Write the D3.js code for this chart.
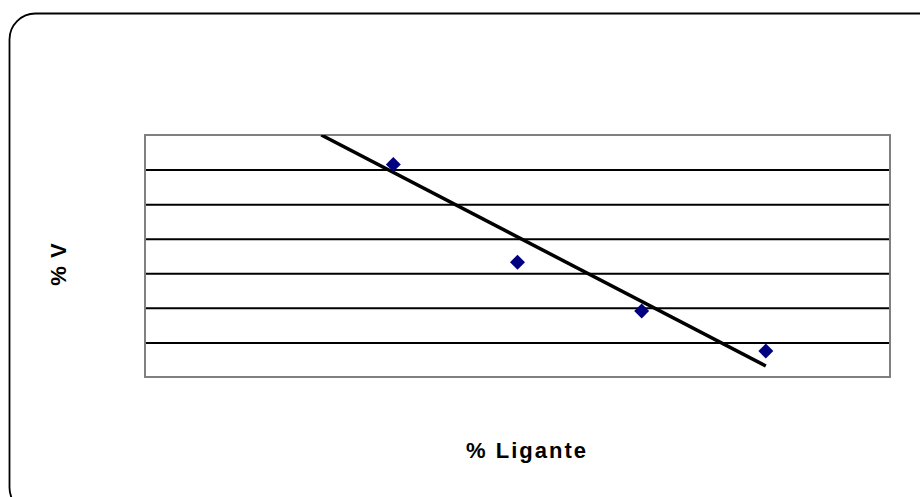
<!DOCTYPE html>
<html>
<head>
<meta charset="utf-8">
<script src="https://cdn.jsdelivr.net/npm/d3@7"></script>
<style>
  html, body { margin: 0; padding: 0; background: #fff; }
  svg { display: block; }
</style>
</head>
<body>
<svg id="chart" width="920" height="497"></svg>
<script>
// Binder content (% Ligante) and air voids (% V)
const ligante = [4.0, 4.5, 5.0, 5.5];
const vazios = [6.15, 3.32, 1.91, 0.75];

// Linear trend line endpoints (clipped at the top of the plot area)
const trendX = [3.71, 5.5];
const trendY = [7.0, 0.32];

// Axis ranges and hidden tick values (gridlines only)
const xDomain = [3.0, 6.0];
const yDomain = [0, 7];
const yTicks = [1, 2, 3, 4, 5, 6];

const xTitle = "% Ligante";
const yTitle = "% V";

const svg = d3.select("#chart");
const plot = { left: 145, top: 135, right: 890, bottom: 377 };

// Outer rounded frame
svg.append("rect")
  .attr("x", 9.5).attr("y", 13.5)
  .attr("width", 940).attr("height", 500)
  .attr("rx", 26).attr("ry", 26)
  .attr("fill", "#fff")
  .attr("stroke", "#000")
  .attr("stroke-width", 1.8);

const x = d3.scaleLinear().domain(xDomain).range([plot.left, plot.right]);
const y = d3.scaleLinear().domain(yDomain).range([plot.bottom, plot.top]);

// Horizontal gridlines
const yGrid = d3.axisLeft(y)
  .tickValues(yTicks)
  .tickSize(-(plot.right - plot.left))
  .tickFormat("");
svg.append("g")
  .attr("transform", `translate(${plot.left},0)`)
  .call(yGrid)
  .call(g => g.select(".domain").remove())
  .call(g => g.selectAll("line").attr("stroke", "#000").attr("stroke-width", 2));

// Plot area border
svg.append("rect")
  .attr("x", plot.left).attr("y", plot.top)
  .attr("width", plot.right - plot.left)
  .attr("height", plot.bottom - plot.top)
  .attr("fill", "none")
  .attr("stroke", "#808080")
  .attr("stroke-width", 2);

// Clip for the trend line
svg.append("clipPath").attr("id", "plotClip")
  .append("rect")
  .attr("x", plot.left).attr("y", plot.top)
  .attr("width", plot.right - plot.left)
  .attr("height", plot.bottom - plot.top);

const line = d3.line().x(d => x(d[0])).y(d => y(d[1]));
svg.append("path")
  .datum(d3.zip(trendX, trendY))
  .attr("clip-path", "url(#plotClip)")
  .attr("d", line)
  .attr("fill", "none")
  .attr("stroke", "#000")
  .attr("stroke-width", 3.5);

// Diamond markers
const diamond = d3.symbol().type(d3.symbolSquare).size(112);
svg.append("g")
  .selectAll("path")
  .data(d3.zip(ligante, vazios))
  .join("path")
  .attr("d", diamond)
  .attr("transform", d => `translate(${x(d[0])},${y(d[1])}) rotate(45)`)
  .attr("fill", "#000080");

// Axis titles
svg.append("text")
  .attr("x", 527).attr("y", 458)
  .attr("text-anchor", "middle")
  .attr("font-family", "Liberation Sans, Arial, sans-serif")
  .attr("font-weight", "bold")
  .attr("font-size", 22)
  .attr("letter-spacing", 2)
  .text(xTitle);

svg.append("text")
  .attr("transform", "translate(66,264) rotate(-90)")
  .attr("text-anchor", "middle")
  .attr("font-family", "Liberation Sans, Arial, sans-serif")
  .attr("font-weight", "bold")
  .attr("font-size", 22)
  .attr("letter-spacing", 1)
  .text(yTitle);
</script>
</body>
</html>
